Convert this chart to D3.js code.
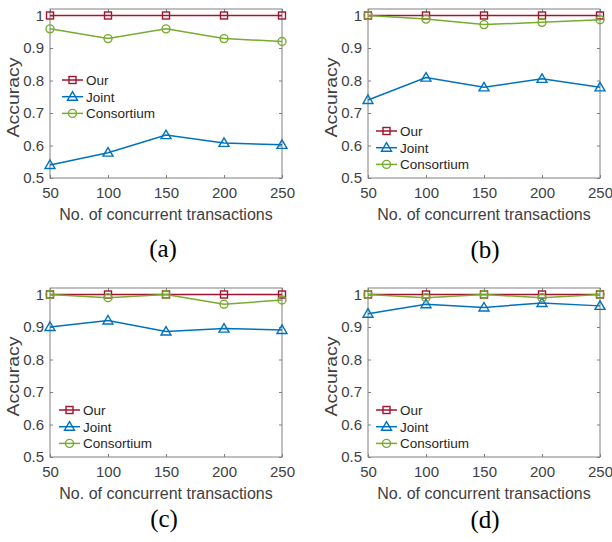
<!DOCTYPE html>
<html>
<head>
<meta charset="utf-8">
<script src="https://cdn.jsdelivr.net/npm/d3@7"></script>
<style>
  body { margin: 0; background: #fff; }
  svg { display: block; }
</style>
</head>
<body>
<svg id="chart" width="612" height="542"></svg>
<script>
// x values shared by all four panels
const transactions = [50, 100, 150, 200, 250];
const yTicks = [0.5, 0.6, 0.7, 0.8, 0.9, 1];
const seriesNames = ['Our', 'Joint', 'Consortium'];
const captions = ['(a)', '(b)', '(c)', '(d)'];

// accuracy, one array per panel
const ourA = [1, 1, 1, 1, 1];
const jointA = [0.54, 0.578, 0.632, 0.608, 0.602];
const consA = [0.959, 0.929, 0.959, 0.929, 0.92];

const ourB = [1, 1, 1, 1, 1];
const jointB = [0.74, 0.809, 0.779, 0.805, 0.779];
const consB = [1, 0.989, 0.972, 0.979, 0.987];

const ourC = [1, 1, 1, 1, 1];
const jointC = [0.9, 0.92, 0.886, 0.895, 0.891];
const consC = [1, 0.99, 1, 0.97, 0.983];

const ourD = [1, 1, 1, 1, 1];
const jointD = [0.941, 0.97, 0.96, 0.974, 0.965];
const consD = [1, 0.99, 1, 0.99, 1];

const colors = { Our: '#A2142F', Joint: '#0072BD', Consortium: '#77AC30' };

const panels = [
    { data: [ourA, jointA, consA], left: 50, top: 9, legend: { x: 62, y: 80 }, cap: { x: 163, y: 257 } },
    { data: [ourB, jointB, consB], left: 368, top: 9, legend: { x: 376, y: 131 }, cap: { x: 485, y: 258 } },
    { data: [ourC, jointC, consC], left: 50, top: 288, legend: { x: 59, y: 410 }, cap: { x: 164, y: 527 } },
    { data: [ourD, jointD, consD], left: 368, top: 288, legend: { x: 376, y: 410 }, cap: { x: 485, y: 528 } }
];

const width = 232;
const height = 169;
const axisColor = '#808080';
const textColor = '#404040';
const sans = '"Liberation Sans", Arial, sans-serif';

const svg = d3.select('#chart');

function drawMarker(g, name, x, y) {
    const c = colors[name];
    if (name === 'Our') {
        g.append('rect')
            .attr('x', x - 3.5).attr('y', y - 3.5)
            .attr('width', 7).attr('height', 7)
            .attr('fill', 'none').attr('stroke', c).attr('stroke-width', 1.4);
    } else if (name === 'Joint') {
        g.append('path')
            .attr('d', `M${x},${y - 5}L${x + 5},${y + 3.5}L${x - 5},${y + 3.5}Z`)
            .attr('fill', 'none').attr('stroke', c).attr('stroke-width', 1.4);
    } else {
        g.append('circle')
            .attr('cx', x).attr('cy', y).attr('r', 4)
            .attr('fill', 'none').attr('stroke', c).attr('stroke-width', 1.4);
    }
}

panels.forEach((p, i) => {
    const chart = svg.append('g')
        .attr('transform', `translate(${p.left}, ${p.top})`);

    const xScale = d3.scaleLinear().domain([50, 250]).range([0, width]);
    const yScale = d3.scaleLinear().domain([0.5, 1.02]).range([height, 0]);

    // inward ticks on all four sides, like a matlab box
    chart.append('g')
        .attr('transform', `translate(0, ${height})`)
        .call(d3.axisBottom(xScale).tickValues(transactions).tickSizeInner(-3).tickSizeOuter(0).tickPadding(9))
        .call(g => g.select('.domain').remove());
    chart.append('g')
        .call(d3.axisTop(xScale).tickValues(transactions).tickSizeInner(-3).tickSizeOuter(0).tickFormat(''))
        .call(g => g.select('.domain').remove());
    chart.append('g')
        .call(d3.axisLeft(yScale).tickValues(yTicks).tickFormat(d => d === 1 ? '1' : d.toFixed(1)).tickSizeInner(-3).tickSizeOuter(0).tickPadding(6))
        .call(g => g.select('.domain').remove());
    chart.append('g')
        .attr('transform', `translate(${width}, 0)`)
        .call(d3.axisRight(yScale).tickValues(yTicks).tickSizeInner(-3).tickSizeOuter(0).tickFormat(''))
        .call(g => g.select('.domain').remove());

    chart.selectAll('.tick line').attr('stroke', axisColor);
    chart.selectAll('.tick text')
        .attr('fill', textColor)
        .style('font-family', sans)
        .style('font-size', '15px');

    chart.append('rect')
        .attr('width', width).attr('height', height)
        .attr('fill', 'none').attr('stroke', axisColor).attr('stroke-width', 1);

    const line = d3.line()
        .x((d, j) => xScale(transactions[j]))
        .y(d => yScale(d));

    seriesNames.forEach((name, k) => {
        const values = p.data[k];
        chart.append('path')
            .datum(values)
            .attr('d', line)
            .attr('fill', 'none')
            .attr('stroke', colors[name])
            .attr('stroke-width', 1.5);
        const mg = chart.append('g');
        values.forEach((v, j) => drawMarker(mg, name, xScale(transactions[j]), yScale(v)));
    });

    // legend
    const lg = svg.append('g');
    seriesNames.forEach((name, k) => {
        const y = p.legend.y + k * 16.7;
        lg.append('line')
            .attr('x1', p.legend.x).attr('x2', p.legend.x + 21)
            .attr('y1', y).attr('y2', y)
            .attr('stroke', colors[name]).attr('stroke-width', 1.5);
        drawMarker(lg, name, p.legend.x + 10.5, y);
        lg.append('text')
            .attr('x', p.legend.x + 24)
            .attr('y', y)
            .attr('dy', '0.36em')
            .attr('fill', '#262626')
            .style('font-family', sans)
            .style('font-size', '13.5px')
            .text(name);
    });

    // axis labels
    svg.append('text')
        .attr('x', p.left + width / 2)
        .attr('y', p.top + 211)
        .attr('text-anchor', 'middle')
        .attr('fill', textColor)
        .style('font-family', sans)
        .style('font-size', '16px')
        .text('No. of concurrent transactions');

    svg.append('text')
        .attr('transform', `translate(${p.left - 31}, ${p.top + height / 2 + 4}) rotate(-90)`)
        .attr('text-anchor', 'middle')
        .attr('fill', textColor)
        .attr('textLength', 80)
        .attr('lengthAdjust', 'spacingAndGlyphs')
        .style('font-family', sans)
        .style('font-size', '16px')
        .text('Accuracy');

    svg.append('text')
        .attr('x', p.cap.x)
        .attr('y', p.cap.y)
        .attr('text-anchor', 'middle')
        .attr('fill', '#000')
        .style('font-family', '"Liberation Serif", "Times New Roman", serif')
        .style('font-size', '25px')
        .text(captions[i]);
});
</script>
</body>
</html>
